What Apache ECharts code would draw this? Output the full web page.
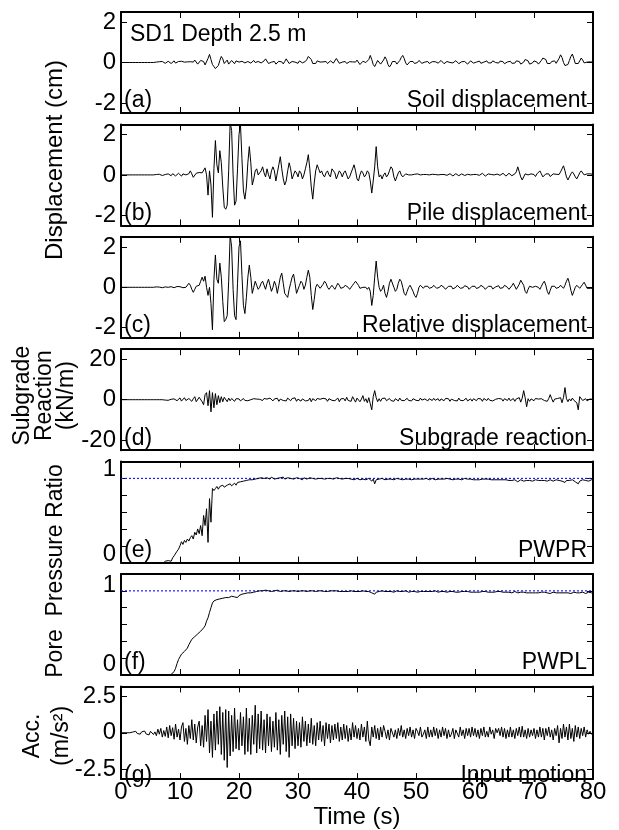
<!DOCTYPE html>
<html>
<head>
<meta charset="utf-8">
<script src="https://cdn.jsdelivr.net/npm/echarts@6/dist/echarts.min.js"></script>
<style>
html,body{margin:0;padding:0;background:#fff;}
#chart{width:619px;height:830px;}
</style>
</head>
<body>
<div id="chart"></div>
<script>
// sampling step of all records (s)
const DT = 0.25;
// reference level of pore pressure ratio (blue dotted line)
const RATIO_REF = 1;

// (a) Soil displacement (cm)
const soilDisp = [
0,0,0,0,0,0,0,0,0,0,0,0,0,0,0,0,0,0,0,0,0,0,0,0,
0.02,-0.03,0.04,-0.02,0.05,0.01,-0.04,0.03,
0.06,-0.02,-0.05,0.04,0.08,-0.03,0.02,0.05,
-0.04,0.06,0.1,0.02,-0.06,0.03,0.09,0.04,
-0.05,0.02,0.12,0.05,-0.08,-0.04,0.1,0.15,
0.05,-0.12,-0.05,0.2,0.4,0.15,-0.1,-0.2,
-0.3,-0.38,-0.15,0.1,0.3,0.18,-0.05,0.02,
0.12,-0.08,-0.04,0.1,0.05,-0.06,0.08,0.12,
0.02,-0.07,0.06,0.1,-0.02,-0.08,0.05,0.08,
-0.03,0.04,0.1,0.0,-0.06,0.05,0.09,-0.02,
-0.06,0.08,0.18,0.1,-0.05,-0.1,0.02,0.1,
0.05,-0.08,-0.04,0.06,0.12,0.03,-0.07,0.05,
0.18,0.1,-0.05,-0.08,0.05,0.12,0.02,-0.06,
-0.04,0.08,0.1,-0.02,-0.08,0.05,0.15,0.3,
0.35,0.15,-0.05,-0.12,-0.05,0.08,0.1,0.02,
-0.06,0.03,0.1,0.05,-0.05,-0.02,0.08,0.06,
-0.03,0.05,0.2,0.12,-0.04,-0.08,0.02,0.1,
0.05,-0.05,-0.08,0.04,0.1,0.03,-0.06,0.02,
0.12,0.05,-0.1,-0.08,0.06,0.12,0.0,-0.05,
0.15,0.35,0.15,-0.1,-0.2,-0.05,0.1,0.05,
-0.08,-0.02,0.12,0.28,0.15,-0.1,-0.22,-0.12,
0.05,0.12,0.05,-0.08,-0.05,0.1,0.25,0.35,
0.2,-0.02,-0.12,-0.08,0.05,0.12,0.05,-0.05,
-0.1,0.0,0.1,0.08,-0.04,-0.08,0.02,0.08,
0.05,-0.05,-0.06,0.04,0.1,0.04,-0.05,-0.03,
0.06,0.1,0.02,-0.06,-0.04,0.05,0.08,0.0,
-0.07,-0.02,0.06,0.09,0.02,-0.06,-0.05,0.04,
0.1,0.05,-0.04,-0.08,0.0,0.08,0.06,-0.03,
-0.07,0.02,0.1,0.07,-0.04,-0.08,0.02,0.1,
0.08,-0.02,-0.08,-0.02,0.08,0.1,0.0,-0.07,
-0.03,0.07,0.12,0.04,-0.06,-0.08,0.03,0.1,
0.06,-0.04,-0.1,-0.03,0.08,0.14,0.05,-0.08,
-0.1,0.02,0.15,0.22,0.08,-0.08,-0.12,-0.02,
0.08,0.12,0.02,-0.08,-0.05,0.1,0.22,0.3,
0.15,-0.05,-0.12,-0.05,0.05,0.1,0.08,-0.04,
0.05,0.2,0.38,0.25,0.0,-0.15,-0.22,-0.1,
0.1,0.3,0.42,0.2,-0.05,-0.12,-0.05,0.08,
0.22,0.12,-0.02,-0.06,0.02,0.05,0.03,0.0,0.02
];

// (b) Pile displacement (cm)
const pileDisp = [
0,0,0,0,0,0,0,0,0,0,0,0,0,0,0,0,0,0,0,0,0,0,0,0,
0.02,-0.02,0.03,0.0,-0.03,0.04,0.02,-0.02,
0.05,0.01,-0.04,0.06,0.03,-0.05,0.04,0.08,
0.02,-0.06,0.05,0.1,0.0,-0.08,0.06,0.2,
0.05,-0.12,-0.05,0.08,0.05,0.12,0.2,0.1,
0.1,0.35,0.0,-1.0,0.2,-0.5,-2.1,0.3,
1.7,0.5,0.1,1.2,0.6,-0.6,-1.6,-1.7,
-1.5,0.2,2.6,2.2,0.0,-1.5,-1.3,0.3,
2.0,2.5,0.8,-0.8,-1.2,-0.6,0.6,1.4,
0.6,-0.5,-0.2,0.2,0.3,0.0,0.1,0.2,
0.4,0.1,-0.1,0.3,0.0,-0.2,0.2,0.4,
0.2,-0.3,0.1,0.5,0.9,0.3,-0.2,-0.5,
-0.3,0.2,0.6,0.3,-0.2,0.0,0.2,0.1,
-0.1,0.2,0.1,-0.2,0.0,0.3,0.6,1.0,
0.3,-0.6,-1.2,-0.4,0.2,0.5,0.3,0.1,
0.2,0.0,-0.1,0.1,0.2,0.0,-0.1,0.3,
0.3,0.1,-0.2,0.0,0.2,0.1,-0.1,0.1,
0.2,0.0,-0.2,-0.1,0.1,0.3,0.5,0.2,
-0.2,-0.3,0.0,0.2,0.1,-0.1,0.0,0.2,
0.1,-0.3,-0.9,-0.3,0.4,1.4,0.4,-0.1,
0.0,-0.2,0.0,0.1,-0.1,0.0,0.2,0.4,
0.3,-0.1,-0.3,-0.1,0.1,0.2,0.0,-0.1,
-0.05,0.05,0.1,0.0,-0.08,0.0,0.06,0.03,
-0.04,0.05,0.08,0.0,-0.06,0.02,0.06,0.02,
-0.05,0.0,0.05,0.03,-0.03,0.02,0.06,0.0,
-0.05,0.02,0.05,0.02,-0.04,-0.02,0.04,0.06,
0.0,-0.05,0.02,0.06,0.02,-0.04,0.0,0.05,
0.04,-0.03,-0.04,0.03,0.06,0.0,-0.05,0.02,
0.06,0.02,-0.04,-0.02,0.05,0.08,0.0,-0.06,
-0.02,0.05,0.08,0.02,-0.05,0.0,0.06,0.04,
-0.04,-0.02,0.05,0.08,0.0,-0.06,0.02,0.08,
0.05,-0.04,-0.06,0.05,0.15,0.4,0.15,-0.1,
-0.25,-0.1,0.05,0.1,0.0,-0.05,0.05,0.1,
0.02,-0.08,0.05,0.12,0.2,0.05,-0.1,-0.05,
0.05,0.12,0.05,-0.08,-0.05,0.05,0.1,0.03,
-0.05,0.02,0.15,0.3,0.45,0.2,-0.1,-0.25,
-0.1,0.05,0.15,0.05,-0.1,-0.2,-0.05,0.1,
0.2,0.12,0.0,-0.05,0.05,0.1,0.05,0.02,0.03
];

// (c) Relative displacement (cm)
const relDisp = [
0,0,0,0,0,0,0,0,0,0,0,0,0,0,0,0,0,0,0,0,0,0,0,0,
0.02,-0.03,0.01,0.04,-0.02,-0.05,0.02,0.05,
0.0,-0.04,0.03,0.05,-0.02,-0.04,0.04,0.08,
0.03,-0.05,-0.02,0.05,0.0,0.08,0.2,0.1,
-0.1,-0.25,-0.1,0.05,0.0,0.1,0.3,0.5,
0.3,0.55,0.0,-0.4,0.0,-0.8,-2.1,0.4,
1.6,0.4,0.2,1.2,0.5,-0.7,-1.7,-1.6,
-1.4,0.3,2.6,2.0,-0.1,-1.4,-1.6,0.2,
2.0,2.3,0.6,-0.9,-1.3,-0.5,0.5,1.1,
0.5,-0.3,0.0,0.3,0.1,-0.1,0.0,0.2,
0.3,0.1,-0.1,0.2,0.4,0.1,-0.2,0.0,
0.3,0.1,-0.3,0.1,0.5,0.7,0.2,-0.3,
-0.4,-0.5,-0.1,0.2,0.5,0.65,0.2,-0.3,
-0.25,0.1,0.3,0.2,-0.1,0.1,0.5,0.85,
0.5,-0.4,-1.1,-0.6,0.0,0.15,0.1,-0.05,
0.0,0.15,0.3,0.2,0.0,-0.1,0.0,0.1,
0.0,-0.1,0.05,0.2,0.1,-0.05,-0.1,0.0,
0.1,0.15,0.0,-0.1,-0.05,0.1,0.2,0.3,
0.25,0.1,-0.05,-0.1,0.0,0.05,0.0,-0.1,
0.0,-0.2,-0.9,-0.4,0.5,1.3,0.5,0.0,
-0.2,-0.1,0.1,-0.3,-0.5,-0.2,0.2,0.4,
0.35,0.0,-0.2,-0.1,0.2,0.4,0.3,0.0,
-0.3,-0.4,-0.2,0.0,0.1,0.05,-0.2,-0.4,
-0.5,-0.3,0.0,0.1,0.05,-0.05,0.05,0.1,
0.05,-0.05,-0.1,0.0,0.1,0.05,-0.05,-0.1,
0.0,0.1,0.12,0.0,-0.1,-0.08,0.05,0.1,
0.05,-0.08,-0.1,0.0,0.1,0.08,-0.05,-0.1,
-0.02,0.08,0.12,0.02,-0.1,-0.08,0.05,0.1,
0.05,-0.06,-0.1,0.0,0.1,0.12,0.0,-0.1,
-0.08,0.05,0.12,0.05,-0.08,-0.1,0.02,0.1,
0.08,-0.05,-0.12,-0.02,0.1,0.12,0.0,-0.1,
-0.05,0.08,0.2,0.05,-0.1,-0.05,0.15,0.35,
0.4,0.1,-0.2,-0.3,-0.1,0.05,0.1,0.0,
-0.05,0.05,0.1,0.0,-0.1,0.05,0.2,0.3,
0.1,-0.2,-0.35,-0.15,0.05,0.1,0.05,-0.05,
-0.1,0.0,0.1,0.05,-0.05,0.1,0.3,0.45,
0.2,-0.15,-0.4,-0.2,0.0,0.1,0.05,-0.05,
0.05,0.15,0.25,0.1,-0.05,-0.1,-0.05,0.0,-0.05
];

// (d) Subgrade reaction (kN/m)
const subgrade = [
0,0,0,0,0,0,0,0,0,0,0,0,0,0,0,0,0,0,0,0,0,0,0,0,
0,0,0,0,0,0.3,-0.2,0.4,
-0.3,0.5,0.2,-0.6,0.4,0.8,-0.5,0.3,
0.9,-0.7,0.2,1.0,-0.4,-0.9,0.6,1.2,
-0.8,0.5,1.5,-1.0,-1.5,1.2,2.0,-1.0,
-2.5,2.5,3.5,-3.0,4.5,-6.0,3.5,-4.0,
3.0,-2.5,2.0,-1.5,1.5,-1.0,1.2,0.3,
-1.0,0.8,-0.5,0.6,0.0,-0.8,0.5,-0.3,
0.4,-0.6,0.3,0.6,-0.4,0.2,-0.5,0.4,
0.0,-0.3,0.5,-0.2,0.3,-0.6,0.2,0.4,
-0.4,0.6,-0.2,0.3,-0.5,0.8,0.0,-0.6,
0.4,-0.3,0.7,-0.8,0.3,0.5,-0.4,0.2,
-0.6,0.8,0.2,-0.5,0.6,-0.3,0.9,-0.8,
0.3,0.5,-0.7,0.4,1.0,-0.6,0.2,-0.4,
0.8,-1.0,0.5,0.3,-0.5,0.6,-0.3,0.2,
-0.4,0.7,-0.2,0.4,-0.8,0.5,0.1,-0.3,
0.6,-0.5,0.3,0.8,-1.0,0.4,-0.2,0.6,
-0.6,1.2,-0.4,0.3,-0.8,1.5,0.2,-1.2,
0.8,1.5,-1.0,0.3,2.0,-0.8,0.5,-1.5,
1.0,-2.0,-5.0,1.5,4.5,1.0,-1.0,0.5,
-0.8,0.6,-0.3,0.8,-0.5,0.2,0.6,-0.4,
0.3,-0.8,0.5,0.2,-0.6,0.8,-0.3,0.4,
-0.5,0.3,0.7,-0.4,0.2,-0.6,0.5,0.1,
-0.3,0.6,-0.5,0.8,-0.2,-0.7,0.4,0.3,
-0.6,0.5,0.2,-0.4,0.7,-0.3,0.1,0.5,
-0.7,0.4,0.3,-0.5,0.6,-0.2,0.5,-0.8,
0.3,0.6,-0.4,0.2,-0.6,0.8,-0.3,0.4,
-0.5,0.2,0.7,-0.6,0.3,0.4,-0.7,0.5,
0.2,-0.5,0.6,-0.2,0.4,-0.8,0.6,0.1,
-0.4,0.7,-0.3,0.5,-0.6,0.3,0.2,-0.5,
0.6,-0.2,0.4,-0.7,0.5,0.1,-0.4,0.8,
-0.5,0.3,0.6,-0.8,0.4,-0.2,1.0,-1.2,
0.8,4.5,1.0,-3.5,0.5,-0.8,0.4,0.2,
-0.5,0.6,-0.2,0.3,-0.6,0.5,0.8,-0.4,
0.2,-0.8,0.6,2.5,0.5,-1.2,0.3,-0.5,
0.6,-0.3,1.0,-1.5,1.2,6.0,0.5,-1.0,
0.4,-0.6,0.8,-0.3,0.5,-1.5,-5.0,1.5,
0.6,-0.4,0.3,0.5,-0.6,0.2,0.4,-0.2,0.1
];

// (e) Pore pressure ratio PWPR
const pwpr = [
-0.3,-0.3,-0.3,-0.3,-0.3,-0.3,-0.3,-0.3,-0.3,-0.3,-0.3,-0.3,
-0.3,-0.3,-0.3,-0.3,-0.3,-0.3,-0.3,-0.3,-0.3,-0.3,-0.3,-0.3,
-0.3,-0.3,-0.3,-0.3,-0.27,-0.25,-0.23,-0.24,
-0.22,-0.2,-0.23,-0.18,-0.15,-0.17,-0.08,-0.05,
0.0,0.06,0.02,0.08,0.05,0.1,0.07,0.12,
0.15,0.1,0.2,0.16,0.25,0.18,0.3,0.15,
0.45,0.3,0.55,0.05,0.7,0.35,0.85,0.82,
0.85,0.88,0.84,0.88,0.86,0.9,0.87,0.89,
0.9,0.88,0.92,0.89,0.91,0.93,0.9,0.94,
0.92,0.95,0.93,0.96,0.94,0.97,0.95,0.98,
0.96,0.98,0.97,0.99,0.98,1.0,0.98,1.01,
0.99,1.0,0.98,1.01,1.0,0.99,1.02,1.0,
0.99,1.01,1.0,0.98,1.01,1.0,1.02,0.99,
1.0,1.01,0.99,1.0,1.02,0.99,1.0,1.01,
0.99,1.0,1.0,0.98,1.01,1.0,0.99,1.0,
1.01,0.99,1.0,1.0,0.99,1.01,1.0,0.99,
1.0,1.0,0.99,1.01,1.0,0.99,1.0,1.0,
0.99,1.0,1.01,0.99,1.0,1.0,0.99,1.0,
1.0,0.99,1.0,1.01,0.99,1.0,0.98,1.0,
1.0,0.99,0.98,1.0,0.99,1.0,0.98,0.99,
1.0,0.98,0.96,0.99,0.92,0.98,1.0,0.99,
0.98,1.0,0.99,0.98,1.0,0.99,0.98,0.99,
1.0,0.98,0.99,1.0,0.98,0.99,0.99,0.98,
1.0,0.99,0.98,0.99,1.0,0.98,0.99,0.99,
0.98,0.99,1.0,0.99,0.98,0.99,0.99,1.0,
0.99,0.98,0.99,1.0,0.99,0.98,0.99,0.99,
1.0,0.99,0.98,0.99,0.99,1.0,0.98,0.99,
0.99,0.98,1.0,0.99,0.98,0.99,0.99,0.98,
0.99,1.0,0.98,0.99,0.98,0.99,0.99,0.98,
0.99,0.98,0.99,0.98,0.99,0.99,0.98,0.99,
0.98,0.99,0.97,0.98,0.99,0.98,0.97,0.98,
0.99,0.98,0.97,0.98,0.97,0.98,0.99,0.97,
0.98,0.97,0.96,0.98,0.97,0.95,0.97,0.98,
0.97,0.96,0.98,0.97,0.96,0.97,0.98,0.96,
0.97,0.98,0.96,0.97,0.98,0.97,0.96,0.97,
0.98,0.96,0.97,0.98,0.97,0.96,0.97,0.98,
0.96,0.97,0.98,0.96,0.97,0.94,0.97,0.98,
0.97,0.96,0.98,0.97,0.95,0.97,0.92,0.96,
0.97,0.98,0.96,0.97,0.98,0.96,0.97,0.98,0.97
];

// (f) Pore pressure ratio PWPL
const pwpl = [
-0.3,-0.3,-0.3,-0.3,-0.3,-0.3,-0.3,-0.3,-0.3,-0.3,-0.3,-0.3,
-0.3,-0.3,-0.3,-0.3,-0.3,-0.3,-0.3,-0.3,-0.3,-0.3,-0.3,-0.3,
-0.3,-0.3,-0.3,-0.3,-0.3,-0.3,-0.26,-0.25,
-0.25,-0.24,-0.24,-0.23,-0.2,-0.15,-0.08,-0.02,
0.02,0.06,0.05,0.1,0.12,0.15,0.2,0.22,
0.28,0.26,0.32,0.3,0.36,0.35,0.4,0.42,
0.45,0.48,0.55,0.6,0.68,0.75,0.82,0.85,
0.84,0.87,0.85,0.88,0.86,0.89,0.87,0.9,
0.88,0.9,0.89,0.92,0.9,0.91,0.93,0.9,
0.93,0.92,0.95,0.93,0.96,0.94,0.97,0.95,
0.97,0.96,0.98,0.97,0.99,0.98,1.0,0.98,
1.0,0.99,1.01,0.99,1.0,1.01,0.99,1.0,
1.0,0.99,1.01,1.0,0.99,1.0,1.0,0.99,
1.0,1.01,0.99,1.0,1.0,0.99,1.0,1.0,
0.99,1.0,1.0,0.99,1.0,1.0,0.99,1.0,
1.0,0.99,1.0,1.0,0.99,1.0,1.0,0.99,
1.0,1.0,0.99,1.0,0.99,1.0,1.0,0.99,
1.0,0.99,1.0,1.0,0.99,1.0,0.99,1.0,
0.99,1.0,0.99,1.0,1.0,0.99,0.99,1.0,
0.99,1.0,0.99,0.99,1.0,0.99,0.99,0.98,
0.99,0.99,0.97,0.99,0.95,0.98,0.99,0.99,
0.99,1.0,0.99,0.99,0.98,0.99,1.0,0.99,
0.99,0.98,0.99,1.0,0.99,0.99,0.98,0.99,
0.99,1.0,0.99,0.98,0.99,0.99,1.0,0.99,
0.99,0.98,0.99,0.99,1.0,0.99,0.98,0.99,
0.99,0.99,0.98,0.99,0.99,1.0,0.99,0.98,
0.99,0.99,0.98,0.99,0.99,0.98,0.99,0.99,
0.98,0.99,0.99,0.98,0.99,0.98,0.99,0.99,
0.98,0.99,0.98,0.99,0.99,0.98,0.99,0.98,
0.99,0.98,0.99,0.98,0.98,0.99,0.98,0.99,
0.98,0.98,0.99,0.98,0.99,0.98,0.98,0.99,
0.98,0.99,0.98,0.98,0.97,0.98,0.99,0.98,
0.98,0.97,0.98,0.99,0.98,0.97,0.98,0.98,
0.97,0.98,0.98,0.97,0.98,0.97,0.98,0.97,
0.98,0.97,0.98,0.97,0.97,0.98,0.97,0.98,
0.97,0.97,0.98,0.96,0.97,0.98,0.97,0.97,
0.98,0.97,0.96,0.97,0.98,0.97,0.96,0.97,
0.97,0.96,0.97,0.98,0.96,0.97,0.95,0.97,
0.97,0.98,0.97,0.96,0.97,0.98,0.97,0.97,0.98
];

// (g) Input motion acceleration (m/s2)
const inputAcc = [
0,0,0,0,0,0,0,0,
0.05,-0.08,0.1,-0.05,0.08,-0.1,0.06,-0.04,
0.12,-0.08,0.05,-0.15,0.1,0.18,-0.12,0.06,
-0.2,0.25,-0.1,0.3,-0.3,0.15,-0.25,0.4,
-0.35,0.5,-0.2,0.35,-0.45,0.6,-0.3,0.25,
-0.5,0.4,0.7,-0.6,0.3,-0.8,0.5,-0.4,
0.9,-0.5,0.6,-0.7,0.4,0.8,-0.9,0.5,
-1.0,1.2,-0.6,1.6,-1.4,0.8,-1.7,1.3,
-1.2,1.5,-0.8,1.8,-1.5,1.4,-1.9,1.6,
-2.4,1.5,-1.6,1.2,-1.3,1.7,-1.1,0.9,
-1.2,1.4,-0.9,1.1,-1.5,1.7,-1.3,1.0,
-1.5,1.2,-0.8,1.9,-1.4,1.3,-1.1,1.5,
-1.2,0.9,-1.4,1.3,-0.9,1.1,-1.3,0.8,
-1.0,1.4,-1.2,0.9,-1.5,1.2,-0.8,1.5,
-1.3,1.1,-1.7,1.3,-0.9,1.0,-1.1,0.8,
-0.9,0.7,-1.0,1.1,-0.6,0.8,-0.9,0.6,
-0.7,1.0,-0.8,0.5,-0.9,0.7,-0.5,0.8,
-0.6,0.5,-0.9,0.7,-0.4,0.6,-0.7,0.5,
-0.5,0.6,-0.4,0.7,-0.6,0.4,-0.5,0.6,
-0.4,0.5,-0.6,0.3,-0.5,0.7,-0.3,0.5,
-0.4,0.3,-0.5,0.6,-0.3,0.4,-0.6,0.8,
-0.5,-0.9,0.4,-0.3,0.5,-0.4,0.3,-0.5,
0.4,-0.3,0.5,0.1,-0.4,0.2,-0.5,0.3,
0.4,-0.3,0.2,-0.4,0.3,-0.2,0.5,-0.3,
0.2,-0.4,0.3,-0.2,0.4,-0.3,0.2,-0.4,
0.3,0.1,-0.2,0.4,-0.3,-0.1,0.2,-0.4,
0.4,-0.3,0.2,-0.3,0.4,-0.2,0.3,-0.4,
0.2,-0.3,0.4,-0.2,0.3,-0.4,0.2,-0.3,
-0.1,0.3,-0.4,0.2,0.1,-0.3,0.4,-0.2,
0.2,-0.4,0.3,-0.2,0.3,-0.3,0.4,-0.2,
0.3,-0.3,0.2,-0.4,0.3,-0.2,0.4,-0.3,
0.1,-0.3,0.4,-0.1,0.2,-0.4,0.3,0.0,
0.3,-0.2,0.4,-0.3,0.3,-0.4,0.2,-0.3,
0.4,-0.3,0.2,-0.4,0.3,-0.2,0.4,-0.3,
0.45,-0.3,0.2,-0.4,0.3,-0.3,0.2,-0.2,
0.3,-0.4,0.2,-0.3,0.4,-0.3,0.3,-0.5,
0.3,-0.2,0.4,-0.3,0.2,-0.5,0.3,-0.2,
0.5,-0.7,0.3,-0.4,0.6,-0.3,0.4,-0.5,
0.6,-0.4,0.3,-0.6,0.5,-0.3,0.4,-0.4,
0.3,-0.2,0.4,-0.3,0.2,-0.1,0.1,-0.1,0.0
];

// y-axis tick/label positions per panel
const dispTicks = [-2, 0, 2];
const reactTicks = [-20, 0, 20];
const ratioTicks = [0, 0.25, 0.5, 0.75, 1];
const ratioLabels = [0, 1];
const accTicks = [-2.5, 0, 2.5];

const panelNames = ['(a)', '(b)', '(c)', '(d)', '(e)', '(f)', '(g)'];
const panelTitles = ['Soil displacement', 'Pile displacement', 'Relative displacement',
  'Subgrade reaction', 'PWPR', 'PWPL', 'Input motion'];

const panels = [
  {data: soilDisp, min: -2.5, max: 2.5, ticks: dispTicks, labels: dispTicks},
  {data: pileDisp, min: -2.5, max: 2.5, ticks: dispTicks, labels: dispTicks},
  {data: relDisp, min: -2.5, max: 2.5, ticks: dispTicks, labels: dispTicks},
  {data: subgrade, min: -25, max: 25, ticks: reactTicks, labels: reactTicks},
  {data: pwpr, min: -0.25, max: 1.25, ticks: ratioTicks, labels: ratioLabels, ref: RATIO_REF, up: 18, dn: 18},
  {data: pwpl, min: -0.25, max: 1.25, ticks: ratioTicks, labels: ratioLabels, ref: RATIO_REF, up: 10, dn: 12},
  {data: inputAcc, min: -3.2, max: 3.2, ticks: accTicks, labels: accTicks}
];

// layout
const L = 121, RIGHT = 26, W = 619 - L - RIGHT;
const TOP0 = 12, PITCH = 112.4, H = 101;
const FONT = "'Liberation Sans', Arial, Helvetica, sans-serif";
const TICK_FS = 24, TXT_FS = 23, NAME_FS = 23;

const grids = [], xAxes = [], yAxes = [], series = [], graphics = [];
const frameLine = {show: true, onZero: false, lineStyle: {color: '#000', width: 2}};
const tickStyle = {color: '#000', width: 1};
const lblBase = {color: '#000', fontSize: TICK_FS, fontFamily: FONT};

panels.forEach((p, i) => {
  const top = TOP0 + i * PITCH;
  grids.push({left: L, width: W, top: top, height: H, containLabel: false});
  const last = i === panels.length - 1;
  xAxes.push({
    gridIndex: i, type: 'value', min: 0, max: 80, interval: 10, position: 'bottom',
    axisLine: frameLine,
    axisTick: {show: true, inside: true, length: 6, lineStyle: tickStyle},
    axisLabel: Object.assign({show: last, margin: 1}, lblBase),
    splitLine: {show: false},
    name: last ? 'Time (s)' : '', nameLocation: 'middle', nameGap: 15,
    nameTextStyle: {color: '#000', fontSize: 24, fontFamily: FONT}
  });
  xAxes.push({
    gridIndex: i, type: 'value', min: 0, max: 80, interval: 10, position: 'top',
    axisLine: frameLine,
    axisTick: {show: true, inside: true, length: 6, lineStyle: tickStyle},
    axisLabel: {show: false}, splitLine: {show: false}
  });
  const yLabel = Object.assign({show: true, margin: 5, customValues: p.labels}, lblBase);
  if (p.up !== undefined) {
    yLabel.formatter = v => (v === 1 ? '{u|1}' : '{d|' + v + '}');
    yLabel.rich = {
      u: Object.assign({padding: [0, 0, p.up, 0]}, lblBase),
      d: Object.assign({padding: [p.dn, 0, 0, 0]}, lblBase)
    };
  } else {
    yLabel.formatter = v => String(v);
  }
  yAxes.push({
    gridIndex: i, type: 'value', min: p.min, max: p.max, position: 'left',
    axisLine: frameLine,
    axisTick: {show: true, inside: true, length: 6, lineStyle: tickStyle, customValues: p.ticks},
    axisLabel: yLabel,
    splitLine: {show: false}
  });
  yAxes.push({
    gridIndex: i, type: 'value', min: p.min, max: p.max, position: 'right',
    axisLine: frameLine,
    axisTick: {show: true, inside: true, length: 6, lineStyle: tickStyle, customValues: p.ticks},
    axisLabel: {show: false}, splitLine: {show: false}
  });
  if (p.ref !== undefined) {
    // blue dotted reference level, drawn beneath the record
    series.push({
      type: 'line', xAxisIndex: 2 * i, yAxisIndex: 2 * i,
      data: [[0, p.ref], [80, p.ref]],
      showSymbol: false, symbol: 'none', silent: true,
      color: '#1a1aff',
      lineStyle: {color: '#1a1aff', type: [2, 2], width: 1.2},
      emphasis: {disabled: true}, animation: false, z: 2
    });
  }
  series.push({
    type: 'line', xAxisIndex: 2 * i, yAxisIndex: 2 * i,
    data: p.data.map((v, k) => [k * DT, v]),
    showSymbol: false, symbol: 'none', clip: true,
    color: '#000',
    lineStyle: {color: '#000', width: 1}, animation: false, z: 3
  });

  graphics.push({type: 'text', x: L + 3, y: top + H - 12,
    style: {text: panelNames[i], fill: '#000', font: TXT_FS + 'px ' + FONT, verticalAlign: 'middle', align: 'left'}});
  graphics.push({type: 'text', x: L + W - 6, y: top + H - 12,
    style: {text: panelTitles[i], fill: '#000', font: TXT_FS + 'px ' + FONT, verticalAlign: 'middle', align: 'right'}});
});

graphics.push({type: 'text', x: L + 9, y: TOP0 + 23,
  style: {text: 'SD1 Depth 2.5 m', fill: '#000', font: TXT_FS + 'px ' + FONT, verticalAlign: 'middle', align: 'left'}});

// multi-panel y titles
graphics.push({type: 'text', x: 55, y: 160, rotation: Math.PI / 2,
  style: {text: 'Displacement (cm)', fill: '#000', font: '24px ' + FONT, align: 'center', verticalAlign: 'middle'}});
graphics.push({type: 'text', x: 45, y: TOP0 + 3 * PITCH + H / 2 - 4, rotation: Math.PI / 2,
  style: {text: 'Subgrade\nReaction\n(kN/m)', lineHeight: 22, fill: '#000', font: NAME_FS + 'px ' + FONT, align: 'center', verticalAlign: 'middle'}});
graphics.push({type: 'text', x: 56, y: 571, rotation: Math.PI / 2,
  style: {text: 'Pore  Pressure Ratio', fill: '#000', font: NAME_FS + 'px ' + FONT, align: 'center', verticalAlign: 'middle'}});
graphics.push({type: 'text', x: 47, y: TOP0 + 6 * PITCH + H / 2 - 1, rotation: Math.PI / 2,
  style: {text: 'Acc.\n(m/s²)', lineHeight: 29, fill: '#000', font: NAME_FS + 'px ' + FONT, align: 'center', verticalAlign: 'middle'}});

const chart = echarts.init(document.getElementById('chart'), null, {renderer: 'canvas'});
chart.setOption({
  animation: false,
  backgroundColor: '#fff',
  grid: grids, xAxis: xAxes, yAxis: yAxes, series: series,
  graphic: graphics
});
</script>
</body>
</html>
